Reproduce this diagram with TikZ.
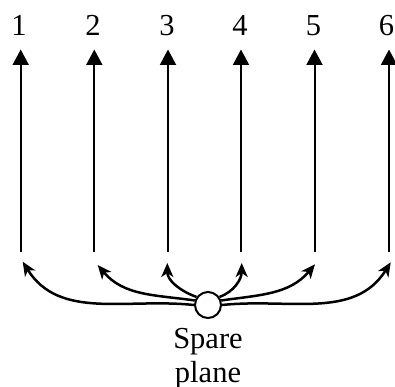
\documentclass[tikz,border=0pt]{standalone}
\usepackage{fontspec}
\setmainfont{Liberation Serif}
\usetikzlibrary{arrows.meta,backgrounds}
\begin{document}
\begin{tikzpicture}[x=1pt,y=1pt,
  lbl/.style={font=\fontsize{30.5}{34}\selectfont, inner sep=0pt, anchor=base},
  uparrow/.style={line width=2pt, -{Triangle[width=16pt,length=15.5pt]}},
  feed/.style={line width=2.5pt, -{Stealth[width=12pt,length=14pt,inset=4pt]}},
  sparenode/.style={circle, draw, line width=2pt, fill=white, minimum size=26pt, inner sep=0pt}]
\useasboundingbox (0,0) rectangle (395,386);
% numbered planes with their upward arrows
\foreach \i/\x/\lx in {1/20.7/19,2/94.3/93,3/168/167,4/241/240,5/314.5/313.5,6/389/386.5}{
  \node[lbl] (l\i) at (\lx,350) {\i};
  \coordinate (b\i) at (\x,134);
  \coordinate (t\i) at (\x,336.5);
  \draw[uparrow] (b\i) -- (t\i);
}
% spare plane and its label (base anchor sits on the last line)
\node[sparenode] (sp) at (208,81) {};
\node[lbl, align=center] (name) at (208,4) {Spare\\plane};
% ends of the feed arrows
\coordinate (e1) at (22.7,124.3);
\coordinate (e2) at (97.7,121);
\coordinate (e3) at (167.3,123);
\coordinate (e4) at (241.7,123);
\coordinate (e5) at (315,121.7);
\coordinate (e6) at (390.7,123.7);
\begin{scope}[on background layer]
\draw[feed] (sp.180) to[out=174,in=-58] (e1);
\draw[feed] (sp.161) to[out=172,in=-50] (e2);
\draw[feed] (sp.145) to[out=160,in=-90] (e3);
\draw[feed] (sp.35) to[out=20,in=-90] (e4);
\draw[feed] (sp.19) to[out=8,in=-130] (e5);
\draw[feed] (sp.0) to[out=6,in=-122] (e6);
\end{scope}
\end{tikzpicture}
\end{document}
